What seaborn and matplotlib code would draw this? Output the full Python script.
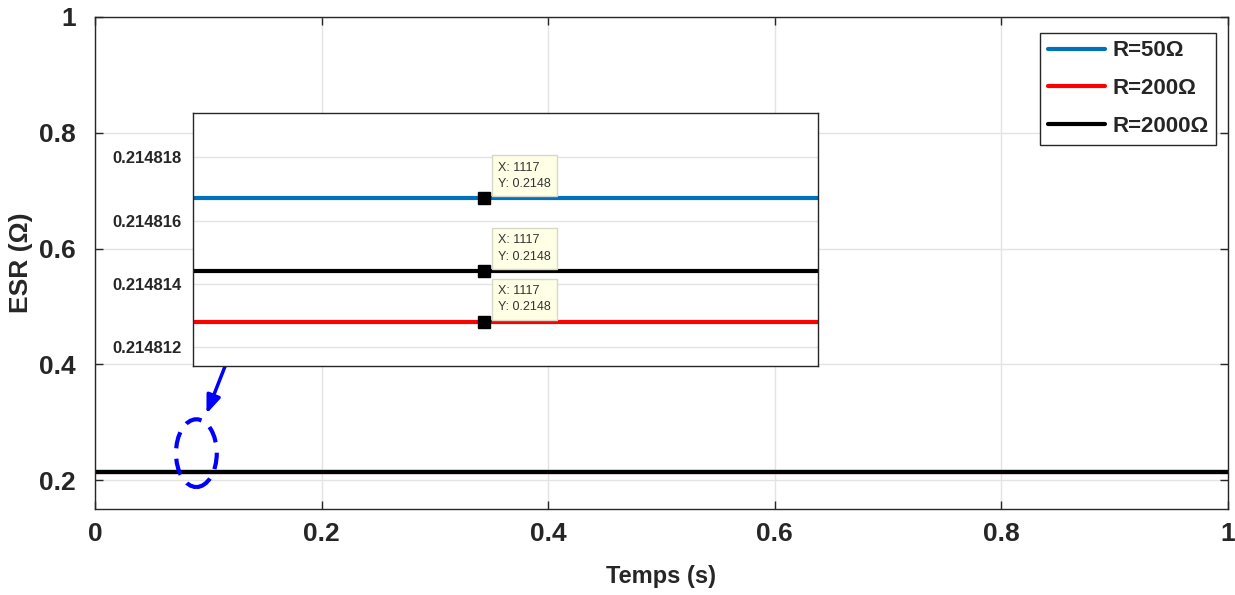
import numpy as np
import pandas as pd
import matplotlib
matplotlib.use("Agg")
import matplotlib.pyplot as plt
from matplotlib.patches import Ellipse
from matplotlib.ticker import FormatStrFormatter
import seaborn as sns

# ---- data ----
series_labels = ["R=50Ω", "R=200Ω", "R=2000Ω"]
series_colors = ["#0072BD", "#FF0000", "#000000"]
esr_values = [0.2148167, 0.2148128, 0.2148144]   # blue, red, black
time_s = [0.0, 1.0]
sample_idx = [900, 1366]
tip_x = 1117
tip_text = "X: 1117\nY: 0.2148"
main_xticks = [0, 0.2, 0.4, 0.6, 0.8, 1]
main_yticks = [0.2, 0.4, 0.6, 0.8, 1]
inset_yticks = [0.214812, 0.214814, 0.214816, 0.214818]

sns.set_theme(style="whitegrid")
plt.rcParams["font.family"] = ["Liberation Sans", "DejaVu Sans"]
plt.rcParams["font.weight"] = "bold"

rows = []
for lab, v in zip(series_labels, esr_values):
    for t in time_s:
        rows.append({"t": t, "esr": v, "R": lab})
df_main = pd.DataFrame(rows)
rows = []
for lab, v in zip(series_labels, esr_values):
    for s in sample_idx:
        rows.append({"n": s, "esr": v, "R": lab})
df_in = pd.DataFrame(rows)
palette = dict(zip(series_labels, series_colors))

fig = plt.figure(figsize=(12.35, 5.95), dpi=100)
ax = fig.add_axes([0.0769, 0.1445, 0.9174, 0.8270])
sns.lineplot(data=df_main, x="t", y="esr", hue="R", hue_order=series_labels,
             palette=palette, linewidth=3, ax=ax)
ax.set_xlim(0, 1)
ax.set_ylim(0.15, 1)
ax.set_xticks(main_xticks)
ax.set_xticklabels(["0", "0.2", "0.4", "0.6", "0.8", "1"])
ax.set_yticks(main_yticks)
ax.set_yticklabels(["0.2", "0.4", "0.6", "0.8", "1"])
ax.tick_params(axis="both", labelsize=19, direction="in", length=6, width=1,
               colors="#262626", top=True, right=True, bottom=True, left=True)
ax.tick_params(axis="x", pad=9)
ax.tick_params(axis="y", pad=14)
for lbl in ax.get_xticklabels() + ax.get_yticklabels():
    lbl.set_fontweight("bold")
ax.grid(True, color="#e3e3e3", linewidth=1)
for sp in ax.spines.values():
    sp.set_color("#262626")
    sp.set_linewidth(1)
ax.set_xlabel("Temps (s)", fontsize=17, fontweight="bold", color="#262626", labelpad=14)
ax.set_ylabel("ESR (Ω)", fontsize=19, fontweight="bold", color="#262626", labelpad=4)

leg = ax.legend(loc="upper right", bbox_to_anchor=(0.9895, 0.968), fontsize=16,
                frameon=True, fancybox=False, edgecolor="#262626", framealpha=1,
                handlelength=2.6, handletextpad=0.3, borderpad=0.35, labelspacing=0.75,
                borderaxespad=0)
leg.get_frame().set_linewidth(1)
for txt in leg.get_texts():
    txt.set_fontweight("bold")
for h in leg.get_lines():
    h.set_linewidth(3)

# dashed ellipse and arrow
ell = Ellipse((0.0895, 0.2465), width=0.036, height=0.117, transform=ax.transData,
              fill=False, edgecolor="#0000FF", linewidth=3, linestyle=(0, (4, 2.5)), zorder=5)
ax.add_patch(ell)
ax.annotate("", xy=(0.0975, 0.31), xytext=(0.1175, 0.41),
            arrowprops=dict(arrowstyle="-|>,head_width=0.35,head_length=0.9",
                            color="#0000FF", lw=2.5), zorder=5)

# inset
axi = fig.add_axes([0.1563, 0.3849, 0.506, 0.4252])
sns.lineplot(data=df_in, x="n", y="esr", hue="R", hue_order=series_labels,
             palette=palette, linewidth=3, ax=axi, legend=False)
axi.set_xlim(sample_idx[0], sample_idx[1])
axi.set_ylim(0.2148114, 0.2148194)
axi.set_yticks(inset_yticks)
axi.yaxis.set_major_formatter(FormatStrFormatter("%.6f"))
axi.set_xticks([])
axi.grid(False)
axi.yaxis.grid(True, color="#e3e3e3", linewidth=1)
axi.tick_params(axis="y", labelsize=12, direction="in", length=5, colors="#262626", pad=8)
for lbl in axi.get_yticklabels():
    lbl.set_fontweight("bold")
axi.set_xlabel("")
axi.set_ylabel("")
for sp in axi.spines.values():
    sp.set_color("#262626")
    sp.set_linewidth(1)
axi.set_facecolor("white")

for v in esr_values:
    axi.annotate(tip_text, xy=(tip_x, v), xytext=(10, 6), textcoords="offset points",
                 ha="left", va="bottom", fontsize=9, fontweight="normal", color="#333333",
                 linespacing=1.5,
                 bbox=dict(boxstyle="square,pad=0.5", fc="#FFFFE6", ec="#d8d8c8", lw=1),
                 zorder=6)
    axi.plot([tip_x], [v], marker="s", markersize=8, color="black", zorder=7)

fig.savefig("out.png", dpi=100)
